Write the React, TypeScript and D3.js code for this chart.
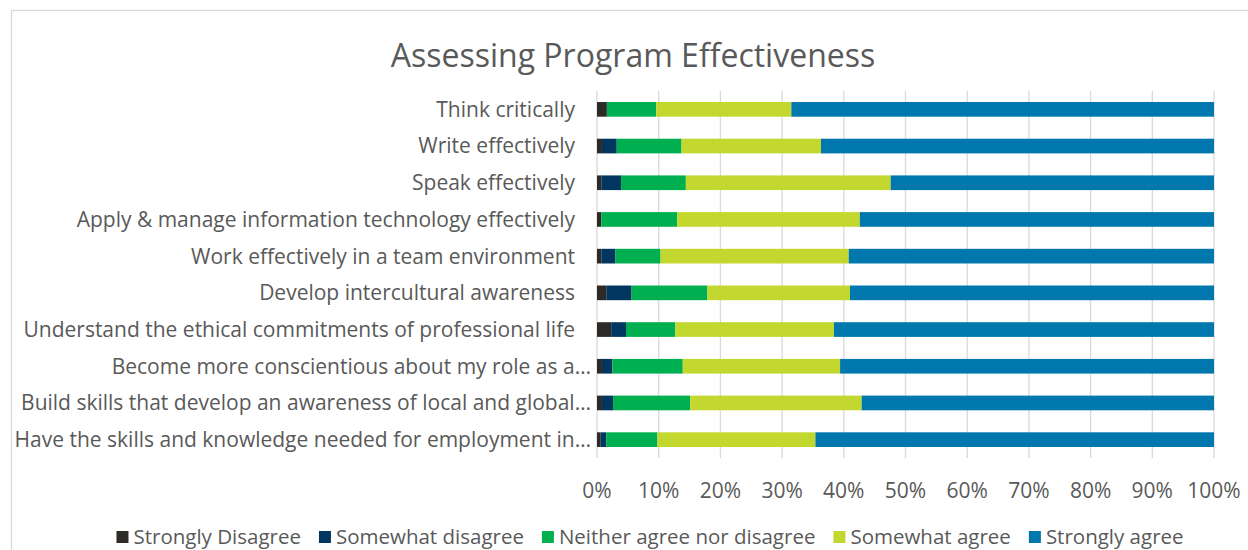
import React, { useEffect, useRef } from "react";
import * as d3 from "d3";

const categories = [
  "Think critically",
  "Write effectively",
  "Speak effectively",
  "Apply & manage information technology effectively",
  "Work effectively in a team environment",
  "Develop intercultural awareness",
  "Understand the ethical commitments of professional life",
  "Become more conscientious about my role as a…",
  "Build skills that develop an awareness of local and global…",
  "Have the skills and knowledge needed for employment in…",
];

const seriesNames = [
  "Strongly Disagree",
  "Somewhat disagree",
  "Neither agree nor disagree",
  "Somewhat agree",
  "Strongly agree",
];

// percentages per category, same order as categories
const stronglyDisagree = [1.6, 0.8, 0.7, 0.7, 0.7, 1.5, 2.3, 0.8, 0.8, 0.6];
const somewhatDisagree = [0, 2.4, 3.2, 0, 2.3, 4.1, 2.4, 1.7, 1.8, 0.9];
const neitherAgree = [8.0, 10.5, 10.5, 12.3, 7.3, 12.3, 8.0, 11.4, 12.5, 8.3];
const somewhatAgree = [21.9, 22.6, 33.2, 29.6, 30.5, 23.1, 25.7, 25.5, 27.8, 25.6];
const stronglyAgree = [68.5, 63.7, 52.4, 57.4, 59.2, 59.0, 61.6, 60.6, 57.1, 64.6];

const tickValues = [0, 0.1, 0.2, 0.3, 0.4, 0.5, 0.6, 0.7, 0.8, 0.9, 1];

const colors = ["#2e2a27", "#00365f", "#00b050", "#c2d82e", "#0078ae"];

const W = 1248;
const H = 550;
const FONT = "'Open Sans', Lato, sans-serif";

const App = () => {
  const svgRef = useRef(null);

  useEffect(() => {
    const svg = d3.select(svgRef.current);
    svg.selectAll("*").remove();

    const values = [stronglyDisagree, somewhatDisagree, neitherAgree, somewhatAgree, stronglyAgree];
    const rows = categories.map((c, i) => {
      const r: any = { name: c };
      seriesNames.forEach((s, j) => (r[s] = values[j][i]));
      return r;
    });
    const series = d3.stack().keys(seriesNames).offset(d3.stackOffsetExpand)(rows);

    const x = d3.scaleLinear().domain([0, 1]).range([597, 1214]);
    const y = d3
      .scaleBand()
      .domain(categories)
      .range([91, 458])
      .paddingInner(0.6)
      .paddingOuter(0.3);

    // chart border
    svg
      .append("rect")
      .attr("x", 11.5)
      .attr("y", 10.5)
      .attr("width", 1300)
      .attr("height", 600)
      .attr("fill", "#fff")
      .attr("stroke", "#d9d9d9")
      .attr("stroke-width", 1.3);

    // title
    svg
      .append("text")
      .attr("x", 633)
      .attr("y", 67)
      .attr("text-anchor", "middle")
      .attr("font-family", FONT)
      .attr("font-size", 32)
      .attr("fill", "#595959")
      .text("Assessing Program Effectiveness");

    // gridlines
    svg
      .append("g")
      .selectAll("line")
      .data(tickValues)
      .join("line")
      .attr("x1", (d) => x(d))
      .attr("x2", (d) => x(d))
      .attr("y1", 91)
      .attr("y2", 458)
      .attr("stroke", "#d9d9d9")
      .attr("stroke-width", 1.3);

    // bars
    svg
      .append("g")
      .selectAll("g")
      .data(series)
      .join("g")
      .attr("fill", (d, i) => colors[i])
      .selectAll("rect")
      .data((d) => d)
      .join("rect")
      .attr("x", (d) => x(d[0]))
      .attr("width", (d) => x(d[1]) - x(d[0]))
      .attr("y", (d: any) => y(d.data.name))
      .attr("height", y.bandwidth());

    // category labels
    svg
      .append("g")
      .selectAll("text")
      .data(categories)
      .join("text")
      .attr("x", (d) => (d.endsWith("…") ? 591 : 575))
      .attr("y", (d) => y(d) + y.bandwidth() / 2)
      .attr("dy", "0.35em")
      .attr("text-anchor", "end")
      .attr("font-family", FONT)
      .attr("font-size", 21)
      .attr("fill", "#595959")
      .text((d) => d);

    // x tick labels
    svg
      .append("g")
      .selectAll("text")
      .data(tickValues)
      .join("text")
      .attr("x", (d) => x(d))
      .attr("y", 498)
      .attr("text-anchor", "middle")
      .attr("font-family", FONT)
      .attr("font-size", 21)
      .attr("fill", "#595959")
      .text((d) => d3.format(".0%")(d));

    // legend
    const legend = svg.append("g");
    const items = legend.selectAll("g").data(seriesNames).join("g");
    items
      .append("rect")
      .attr("width", 12)
      .attr("height", 12)
      .attr("y", 531)
      .attr("fill", (d, i) => colors[i]);
    items
      .append("text")
      .attr("x", 17)
      .attr("y", 544)
      .attr("font-family", FONT)
      .attr("font-size", 20.5)
      .attr("fill", "#595959")
      .text((d) => d);
    const widths: number[] = [];
    items.each(function () {
      widths.push((d3.select(this).select("text").node() as any).getComputedTextLength() + 17);
    });
    const gap = 18;
    const total = d3.sum(widths) + gap * (widths.length - 1);
    let cx = 650 - total / 2;
    items.attr("transform", (d, i) => {
      const t = `translate(${cx},0)`;
      cx += widths[i] + gap;
      return t;
    });
  }, []);

  return (
    <svg
      ref={svgRef}
      width={W}
      height={H}
      style={{ position: "absolute", left: 0, top: 0, background: "#fff" }}
    ></svg>
  );
};

export default App;
